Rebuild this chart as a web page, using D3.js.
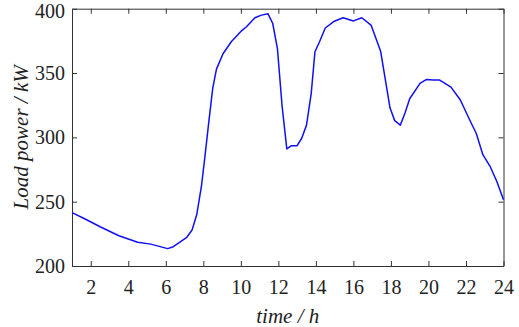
<!DOCTYPE html>
<html>
<head>
<meta charset="utf-8">
<script src="https://cdn.jsdelivr.net/npm/d3@7"></script>
<style>
  body { margin: 0; background: #fff; }
  svg text { font-family: "Times New Roman", Times, "Liberation Serif", Tinos, "Noto Serif", FreeSerif, "DejaVu Serif", serif !important; }
  .axis text { font-size: 20px; fill: #222; }
  .axis path, .axis line { stroke: #333; stroke-width: 1; }
  .title { font-size: 21px; font-style: italic; fill: #222; }
</style>
</head>
<body>
<div id="chart"></div>
<script>
// ---------------- data ----------------
const hours = [1.0, 1.7, 2.5, 3.5, 4.5, 5.2, 6.1, 6.4, 7.1, 7.4, 7.65, 7.9, 8.1, 8.3, 8.5, 8.7,
  9.05, 9.5, 10.05, 10.3, 10.75, 11.1, 11.45, 11.7, 11.95, 12.2, 12.45, 12.7, 13.0, 13.25, 13.5,
  13.75, 13.95, 14.2, 14.5, 14.95, 15.45, 16.0, 16.45, 16.95, 17.45, 17.95, 18.2, 18.5, 18.75,
  19.0, 19.55, 19.9, 20.25, 20.6, 21.2, 21.7, 22.2, 22.55, 22.9, 23.3, 23.65, 24.0];
const load = [241.5, 236.5, 230.5, 223.5, 218.5, 217, 213.5, 215, 222, 228, 240, 262, 287, 313, 338, 353,
  365, 374.5, 383, 386, 393, 395, 396, 388.5, 369, 324, 291, 293.5, 293.5, 299.5, 309.5,
  334, 366.5, 374.5, 385, 390, 393, 390.5, 393, 387, 367, 323, 313, 309.5, 319,
  330, 342, 345, 344.5, 344.5, 339, 329, 313.5, 303, 286.5, 277, 265.5, 251.5];
const xTicks = [2, 4, 6, 8, 10, 12, 14, 16, 18, 20, 22, 24];
const yTicks = [200, 250, 300, 350, 400];

// ---------------- set-up ----------------
const W = 519, H = 327;
const margin = {left: 72, top: 8.7, right: 15.5, bottom: 61};
const width = W - margin.left - margin.right,
      height = H - margin.top - margin.bottom;

const x = d3.scaleLinear().domain([1, 24]).range([0, width]);
const y = d3.scaleLinear().domain([200, 400]).range([height, 0]);

const svg = d3.select("#chart").append("svg")
    .attr("width", W)
    .attr("height", H)
  .append("g")
    .attr("transform", "translate(" + margin.left + "," + margin.top + ")");

// axes, ticks pointing inward (box style)
svg.append("g").attr("class", "axis")
  .attr("transform", "translate(0," + height + ")")
  .call(d3.axisBottom(x).tickValues(xTicks).tickSizeInner(-5).tickSizeOuter(0).tickPadding(14));
svg.append("g").attr("class", "axis")
  .call(d3.axisTop(x).tickValues(xTicks).tickSizeInner(-5).tickSizeOuter(0).tickFormat(""));
svg.append("g").attr("class", "axis")
  .call(d3.axisLeft(y).tickValues(yTicks).tickSizeInner(-5).tickSizeOuter(0).tickPadding(7));
svg.append("g").attr("class", "axis")
  .attr("transform", "translate(" + width + ",0)")
  .call(d3.axisRight(y).tickValues(yTicks).tickSizeInner(-5).tickSizeOuter(0).tickFormat(""));

// nudge top label so it stays inside the frame
svg.selectAll(".axis text").filter(function(d) { return d === 400; }).attr("dy", "0.45em");

// line
const line = d3.line()
  .x(function(d, i) { return x(hours[i]); })
  .y(function(d) { return y(d); });

svg.append("path")
  .datum(load)
  .attr("fill", "none")
  .attr("stroke", "#1010f0")
  .attr("stroke-width", 1.5)
  .attr("stroke-linejoin", "round")
  .attr("d", line);

// axis titles
svg.append("text")
  .attr("class", "title")
  .attr("text-anchor", "middle")
  .attr("x", width / 2)
  .attr("y", height + 57)
  .text("time / h");

svg.append("text")
  .attr("class", "title")
  .attr("text-anchor", "middle")
  .attr("transform", "translate(" + (-44) + "," + (height / 2) + ") rotate(-90)")
  .text("Load power / kW");
</script>
</body>
</html>
